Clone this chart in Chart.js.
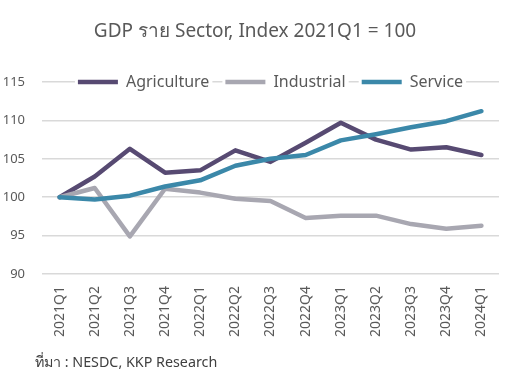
<!DOCTYPE html>
<html>
<head>
<meta charset="utf-8">
<script src="https://cdn.jsdelivr.net/npm/chart.js@4"></script>
<style>
  body { margin: 0; background: #fff; }
  #wrap { position: relative; width: 510px; height: 377px; }
  #source { position: absolute; left: 35px; top: 351px; font: 14.3px "Noto Sans", sans-serif; color: #404040; }
</style>
</head>
<body>
<div id="wrap">
  <canvas id="gdpChart" width="510" height="377"></canvas>
  <div id="source">ที่มา : NESDC, KKP Research</div>
</div>
<script>
const quarters = ['2021Q1', '2021Q2', '2021Q3', '2021Q4', '2022Q1', '2022Q2', '2022Q3',
  '2022Q4', '2023Q1', '2023Q2', '2023Q3', '2023Q4', '2024Q1'];
const agriculture = [100, 102.7, 106.3, 103.2, 103.5, 106.1, 104.6, 107.1, 109.7, 107.5, 106.2, 106.5, 105.5];
const industrial = [100, 101.2, 94.9, 101.1, 100.6, 99.8, 99.5, 97.3, 97.6, 97.6, 96.5, 95.9, 96.3];
const service = [100, 99.7, 100.2, 101.4, 102.2, 104.1, 105.0, 105.5, 107.4, 108.2, 109.1, 109.9, 111.2];

const textColor = '#595959';

// legend sits on top of the plot: it takes little layout height and is drawn last, unclipped
const overlayLegend = {
    id: 'overlayLegend',
    beforeInit: function (chart) {
        const legend = chart.legend;
        const fit = legend.fit;
        legend.fit = function () {
            fit.bind(legend)();
            this.height = 24;
        };
        legend.draw = function () {};
    },
    afterDraw: function (chart) {
        const legend = chart.legend;
        const c = chart.ctx;
        c.save();
        c.fillStyle = '#fff';
        legend.legendHitBoxes.forEach(function (b) {
            c.fillRect(b.left - 3, b.top, b.width + 6, b.height);
        });
        c.restore();
        legend._draw();
    }
};

const ctx = document.getElementById('gdpChart').getContext('2d');
new Chart(ctx, {
    type: 'line',
    data: {
        labels: quarters,
        datasets: [
            { label: 'Agriculture', data: agriculture, borderColor: '#574a72', backgroundColor: '#574a72', order: 3 },
            { label: 'Industrial', data: industrial, borderColor: '#a8a7b1', backgroundColor: '#a8a7b1', order: 2 },
            { label: 'Service', data: service, borderColor: '#3b88a9', backgroundColor: '#3b88a9', order: 1 }
        ]
    },
    options: {
        responsive: false,
        animation: false,
        layout: { padding: { left: 3, right: 3, bottom: 36 } },
        datasets: {
            line: { borderWidth: 4.5, pointRadius: 0, tension: 0, borderCapStyle: 'round', borderJoinStyle: 'round', pointStyle: 'line' }
        },
        plugins: {
            title: {
                display: true,
                text: 'GDP ราย Sector, Index 2021Q1 = 100',
                color: textColor,
                font: { family: 'Noto Sans', size: 19, weight: 'normal' },
                padding: { top: 20, bottom: 15.2 }
            },
            legend: {
                position: 'top',
                fullSize: false,
                labels: {
                    usePointStyle: true,
                    pointStyleWidth: 40,
                    color: textColor,
                    font: { family: 'Noto Sans', size: 16 },
                    padding: 16,
                    sort: function (a, b) { return a.datasetIndex - b.datasetIndex; }
                }
            },
            tooltip: { enabled: false }
        },
        scales: {
            x: {
                offset: true,
                grid: { display: false },
                border: { display: false },
                afterFit: function (scale) {
                    scale.paddingLeft = 0;
                    scale.paddingRight = 11;
                },
                ticks: {
                    color: textColor,
                    font: { family: 'Noto Sans', size: 14 },
                    minRotation: 90,
                    maxRotation: 90,
                    padding: 4,
                    autoSkip: false
                }
            },
            y: {
                min: 90,
                max: 115,
                afterFit: function (scale) {
                    scale.width = 39;
                },
                grid: { color: '#d9d9d9', lineWidth: 1.5, drawTicks: false },
                border: { display: false },
                ticks: {
                    stepSize: 5,
                    color: textColor,
                    font: { family: 'Noto Sans', size: 13 },
                    padding: 17
                }
            }
        }
    },
    plugins: [overlayLegend]
});
</script>
</body>
</html>
